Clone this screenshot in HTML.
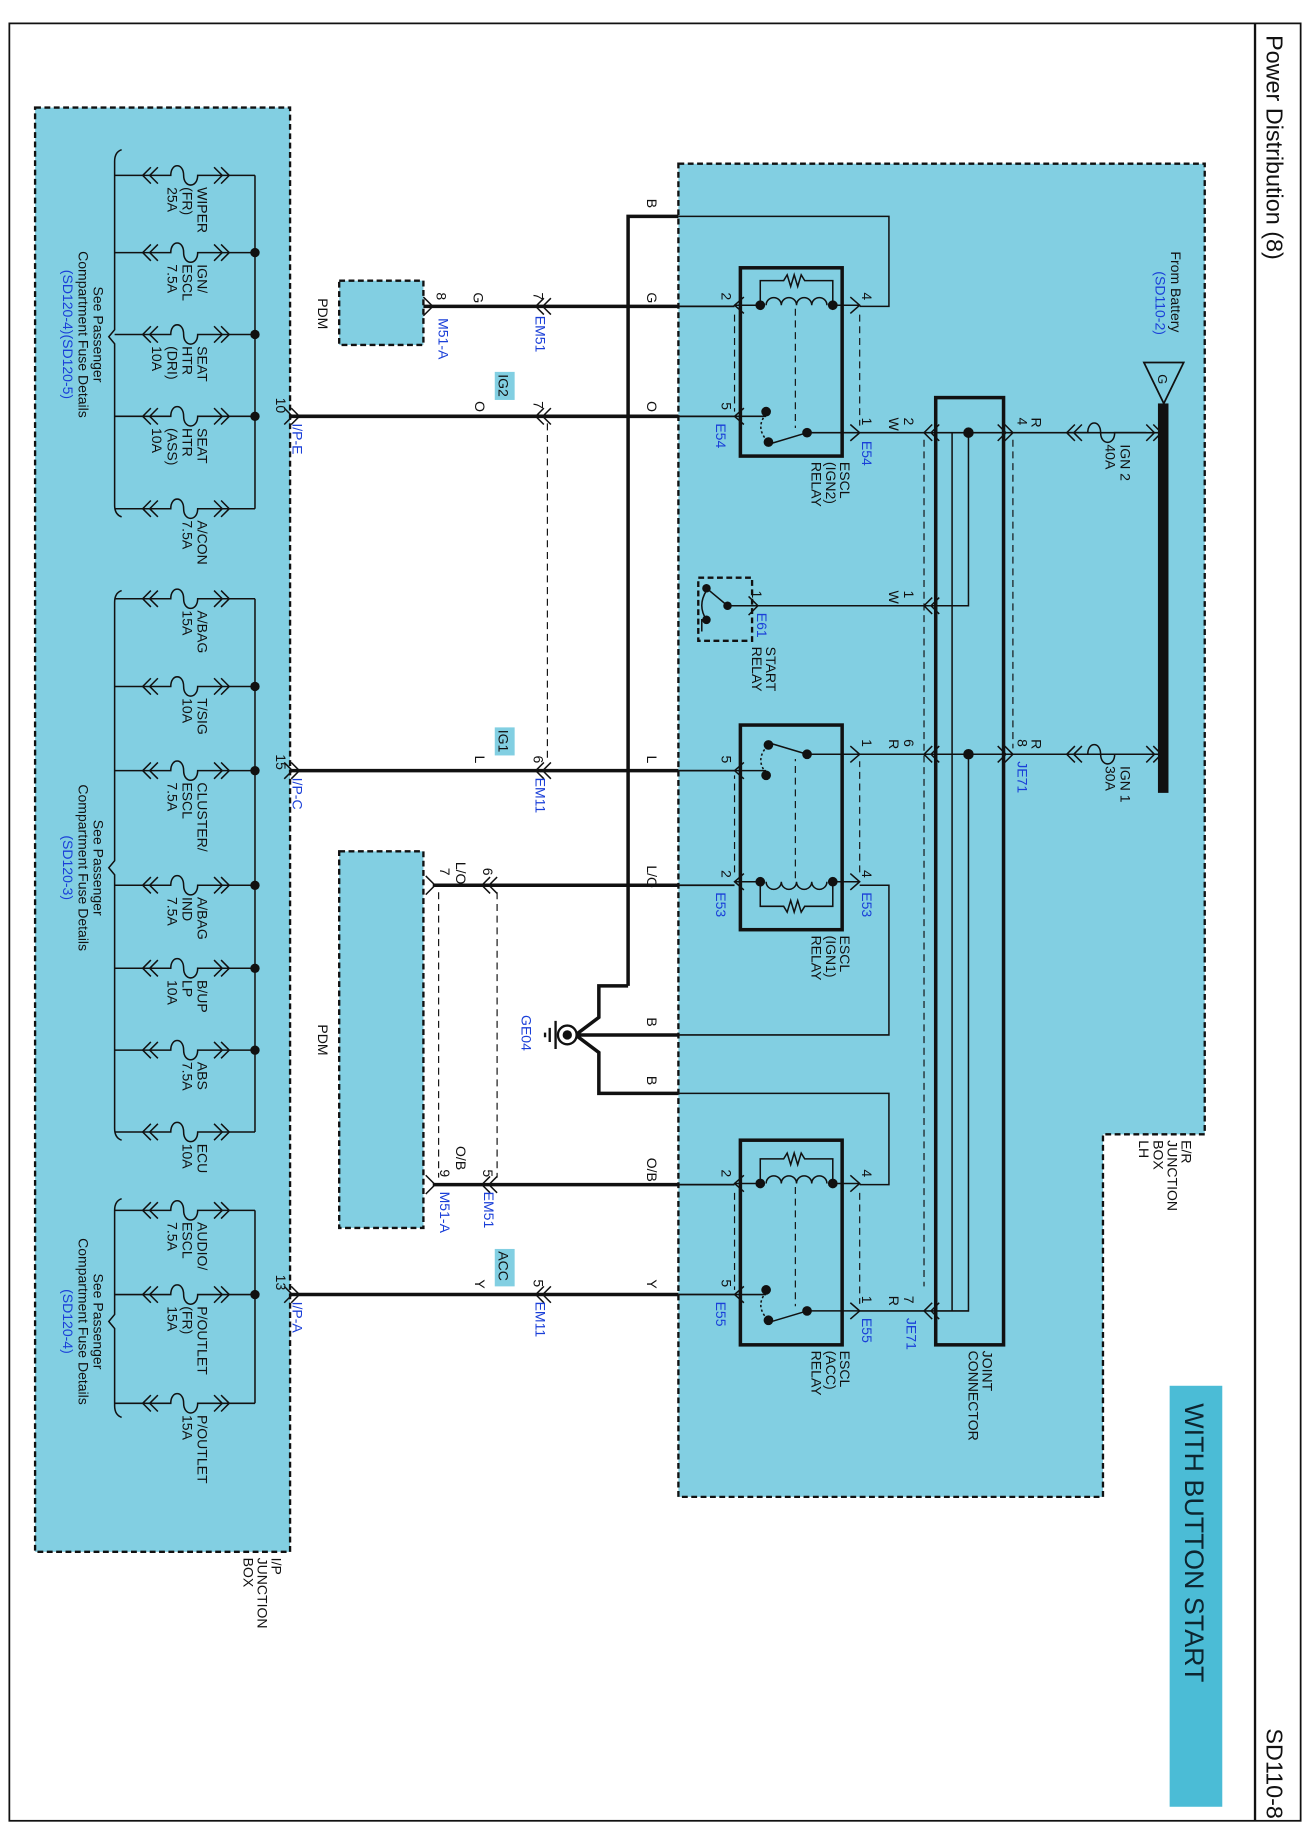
<!DOCTYPE html>
<html><head><meta charset="utf-8"><style>
html,body{margin:0;padding:0;background:#fff}
svg{display:block}
text{font-family:"Liberation Sans",sans-serif;font-size:12px;fill:#111}
.b{fill:#1a3fd8}
</style></head><body>
<svg width="1310" height="1836" viewBox="0 0 1120 1570" preserveAspectRatio="none" xmlns="http://www.w3.org/2000/svg">
<defs>
<path id="cl" d="M7,-7 L0,0 L7,7 M13,-7 L6,0 L13,7" fill="none" stroke="#111" stroke-width="1.3"/>
<path id="cr" d="M-7,-7 L0,0 L-7,7 M-13,-7 L-6,0 L-13,7" fill="none" stroke="#111" stroke-width="1.3"/>
<path id="sl" d="M8,-8 L0,0 L8,8" fill="none" stroke="#111" stroke-width="1.3"/>
<path id="sr" d="M-8,-8 L0,0 L-8,8" fill="none" stroke="#111" stroke-width="1.3"/>
<g id="fuse" fill="none" stroke="#111" stroke-width="1.3">
<path d="M98,0 H146 C146,-11 157,-11 157,0 S169,11 169,0 V0 H218"/>
<path d="M129,-7 L122,0 L129,7 M135,-7 L128,0 L135,7"/>
<path d="M183,-7 L190,0 L183,7 M189,-7 L196,0 L189,7"/>
</g>
<g id="rel" fill="none" stroke="#111" stroke-width="1.3">
<path d="M628,37 H650 M712,37 H735"/>
<path d="M655,37 a6.5,6.5 0 0 1 13,0 a6.5,6.5 0 0 1 13,0 a6.5,6.5 0 0 1 13,0 a6.5,6.5 0 0 1 13,0"/>
<path d="M650,37 V16 H670 l3,-5 l3,10 l3,-10 l3,10 l3,-10 l3,5 H712 V37"/>
<circle cx="650" cy="37" r="3.5" fill="#111"/><circle cx="712" cy="37" r="3.5" fill="#111"/>
<path d="M628,132 H655"/>
<circle cx="655" cy="128" r="3.5" fill="#111"/><circle cx="657" cy="154" r="3.5" fill="#111"/>
<path d="M655,130 Q645,142 657,154" stroke-dasharray="2,2"/>
<path d="M690,146 L660,155"/><circle cx="690" cy="146" r="3.5" fill="#111"/>
<path d="M690,146 H735"/>
<path d="M628,45 V128 M735,45 V140 M680,40 V142" stroke-dasharray="6,4" stroke-width="1"/>
<path d="M636,30 L628,37 L636,44 M636,125 L628,132 L636,139 M727,30 L735,37 L727,44 M727,139 L735,146 L727,153"/>
</g>
</defs>

<!-- frame -->
<rect x="8" y="20" width="1104" height="1537" fill="none" stroke="#111" stroke-width="1.5"/>
<line x1="1073" y1="20" x2="1073" y2="1557" stroke="#111" stroke-width="2"/>
<text x="1083" y="30" transform="rotate(90 1083 30)" style="font-size:20px">Power Distribution (8)</text>
<text x="1083" y="1478" transform="rotate(90 1083 1478)" style="font-size:20px">SD110-8</text>
<rect x="1000" y="1185" width="45" height="360" fill="#4bbcd6"/>
<text x="1013" y="1200" transform="rotate(90 1013 1200)" style="font-size:23px;fill:#0d2530">WITH BUTTON START</text>

<!-- boxes -->
<rect x="30" y="92" width="218" height="1235" fill="#82cfe2" stroke="#111" stroke-width="2" stroke-dasharray="5,3"/>
<path d="M580,140 H1030 V970 H943 V1280 H580 Z" fill="#82cfe2" stroke="#111" stroke-width="2" stroke-dasharray="5,3"/>
<rect x="290" y="240" width="72" height="55" fill="#82cfe2" stroke="#111" stroke-width="2" stroke-dasharray="5,3"/>
<rect x="290" y="728" width="72" height="322" fill="#82cfe2" stroke="#111" stroke-width="2" stroke-dasharray="5,3"/>
<rect x="597" y="494" width="46" height="54" fill="none" stroke="#111" stroke-width="2" stroke-dasharray="5,3"/>

<text x="232" y="1332" transform="rotate(90 232 1332)">I/P</text>
<text x="220" y="1332" transform="rotate(90 220 1332)">JUNCTION</text>
<text x="208" y="1332" transform="rotate(90 208 1332)">BOX</text>
<text x="1010" y="975" transform="rotate(90 1010 975)">E/R</text>
<text x="998" y="975" transform="rotate(90 998 975)">JUNCTION</text>
<text x="986" y="975" transform="rotate(90 986 975)">BOX</text>
<text x="974" y="975" transform="rotate(90 974 975)">LH</text>
<text x="272" y="255" transform="rotate(90 272 255)">PDM</text>
<text x="272" y="876" transform="rotate(90 272 876)">PDM</text>

<!-- fuse groups -->
<g fill="none" stroke="#111" stroke-width="1.3">
<path d="M104,128 Q98,130 98,138 V282 L93,288 L98,294 V432 Q98,440 104,442"/>
<path d="M218,150 V435"/>
<path d="M104,505 Q98,507 98,515 V736 L93,742 L98,748 V965 Q98,973 104,975"/>
<path d="M218,512 V968"/>
<path d="M104,1025 Q98,1027 98,1035 V1124 L93,1130 L98,1136 V1202 Q98,1210 104,1212"/>
<path d="M218,1035 V1200"/>
</g>
<use href="#fuse" transform="translate(0,150)"/><use href="#fuse" transform="translate(0,216)"/>
<use href="#fuse" transform="translate(0,286)"/><use href="#fuse" transform="translate(0,356)"/>
<use href="#fuse" transform="translate(0,435)"/>
<use href="#fuse" transform="translate(0,512)"/><use href="#fuse" transform="translate(0,587)"/>
<use href="#fuse" transform="translate(0,659)"/><use href="#fuse" transform="translate(0,757)"/>
<use href="#fuse" transform="translate(0,828)"/><use href="#fuse" transform="translate(0,898)"/>
<use href="#fuse" transform="translate(0,968)"/>
<use href="#fuse" transform="translate(0,1035)"/><use href="#fuse" transform="translate(0,1107)"/>
<use href="#fuse" transform="translate(0,1200)"/>
<g fill="#111">
<circle cx="218" cy="216" r="4"/><circle cx="218" cy="286" r="4"/><circle cx="218" cy="356" r="4"/>
<circle cx="218" cy="587" r="4"/><circle cx="218" cy="659" r="4"/><circle cx="218" cy="757" r="4"/>
<circle cx="218" cy="828" r="4"/><circle cx="218" cy="898" r="4"/><circle cx="218" cy="1107" r="4"/>
</g>
<!-- fuse labels -->
<g>
<text x="169" y="160" transform="rotate(90 169 160)">WIPER</text><text x="156" y="160" transform="rotate(90 156 160)">(FR)</text><text x="143" y="160" transform="rotate(90 143 160)">25A</text>
<text x="169" y="226" transform="rotate(90 169 226)">IGN/</text><text x="156" y="226" transform="rotate(90 156 226)">ESCL</text><text x="143" y="226" transform="rotate(90 143 226)">7.5A</text>
<text x="169" y="296" transform="rotate(90 169 296)">SEAT</text><text x="156" y="296" transform="rotate(90 156 296)">HTR</text><text x="143" y="296" transform="rotate(90 143 296)">(DRI)</text><text x="130" y="296" transform="rotate(90 130 296)">10A</text>
<text x="169" y="366" transform="rotate(90 169 366)">SEAT</text><text x="156" y="366" transform="rotate(90 156 366)">HTR</text><text x="143" y="366" transform="rotate(90 143 366)">(ASS)</text><text x="130" y="366" transform="rotate(90 130 366)">10A</text>
<text x="169" y="445" transform="rotate(90 169 445)">A/CON</text><text x="156" y="445" transform="rotate(90 156 445)">7.5A</text>
<text x="169" y="522" transform="rotate(90 169 522)">A/BAG</text><text x="156" y="522" transform="rotate(90 156 522)">15A</text>
<text x="169" y="597" transform="rotate(90 169 597)">T/SIG</text><text x="156" y="597" transform="rotate(90 156 597)">10A</text>
<text x="169" y="669" transform="rotate(90 169 669)">CLUSTER/</text><text x="156" y="669" transform="rotate(90 156 669)">ESCL</text><text x="143" y="669" transform="rotate(90 143 669)">7.5A</text>
<text x="169" y="767" transform="rotate(90 169 767)">A/BAG</text><text x="156" y="767" transform="rotate(90 156 767)">IND</text><text x="143" y="767" transform="rotate(90 143 767)">7.5A</text>
<text x="169" y="838" transform="rotate(90 169 838)">B/UP</text><text x="156" y="838" transform="rotate(90 156 838)">LP</text><text x="143" y="838" transform="rotate(90 143 838)">10A</text>
<text x="169" y="908" transform="rotate(90 169 908)">ABS</text><text x="156" y="908" transform="rotate(90 156 908)">7.5A</text>
<text x="169" y="978" transform="rotate(90 169 978)">ECU</text><text x="156" y="978" transform="rotate(90 156 978)">10A</text>
<text x="169" y="1045" transform="rotate(90 169 1045)">AUDIO/</text><text x="156" y="1045" transform="rotate(90 156 1045)">ESCL</text><text x="143" y="1045" transform="rotate(90 143 1045)">7.5A</text>
<text x="169" y="1117" transform="rotate(90 169 1117)">P/OUTLET</text><text x="156" y="1117" transform="rotate(90 156 1117)">(FR)</text><text x="143" y="1117" transform="rotate(90 143 1117)">15A</text>
<text x="169" y="1210" transform="rotate(90 169 1210)">P/OUTLET</text><text x="156" y="1210" transform="rotate(90 156 1210)">15A</text>
</g>
<g text-anchor="middle">
<text x="80" y="286" transform="rotate(90 80 286)">See Passenger</text>
<text x="67" y="286" transform="rotate(90 67 286)">Compartment Fuse Details</text>
<text x="54" y="286" transform="rotate(90 54 286)" class="b">(SD120-4)(SD120-5)</text>
<text x="80" y="742" transform="rotate(90 80 742)">See Passenger</text>
<text x="67" y="742" transform="rotate(90 67 742)">Compartment Fuse Details</text>
<text x="54" y="742" transform="rotate(90 54 742)" class="b">(SD120-3)</text>
<text x="80" y="1130" transform="rotate(90 80 1130)">See Passenger</text>
<text x="67" y="1130" transform="rotate(90 67 1130)">Compartment Fuse Details</text>
<text x="54" y="1130" transform="rotate(90 54 1130)" class="b">(SD120-4)</text>
</g>

<!-- wires -->
<g fill="none" stroke="#111">
<path d="M362,262 H580 M248,356 H580 M248,659 H580 M370,757 H580 M370,1013 H580 M248,1107 H580" stroke-width="3"/>
<path d="M580,262 H628 M580,356 H628 M580,659 H628 M580,757 H628 M580,1013 H628 M580,1107 H628" stroke-width="1.5"/>
<path d="M537,843 V185 H580" stroke-width="3"/>
<path d="M580,185 H760 V262 H735" stroke-width="1.3"/>
<path d="M537,843 H512 V870 L492,885 H580 M492,885 L512,900 V935 H580" stroke-width="3"/>
<path d="M580,885 H760 V757 H735 M580,935 H760 V1013 H735" stroke-width="1.3"/>
<path d="M735,370 H800 M735,645 H800 M648,518 H800 M735,1121 H800 M858,370 H995 M858,645 H995" stroke-width="1.3"/>
<path d="M468,362 V650 M375,763 V1007 M425,763 V1007 M790,376 V1100 M866,376 V640" stroke-width="1" stroke-dasharray="6,4"/>
</g>
<!-- connectors on wires -->
<use href="#cr" x="256" y="356"/><use href="#cr" x="256" y="659"/><use href="#cr" x="256" y="1107"/>
<use href="#cl" x="458" y="262"/><use href="#cl" x="458" y="356"/><use href="#cl" x="458" y="659"/><use href="#cl" x="458" y="1107"/>
<use href="#cl" x="412" y="757"/><use href="#cl" x="412" y="1013"/>
<use href="#sr" x="370" y="262"/><use href="#sr" x="372" y="757"/><use href="#sr" x="372" y="1013"/>
<use href="#cl" x="790" y="370"/><use href="#cl" x="790" y="518"/><use href="#cl" x="790" y="645"/><use href="#cl" x="790" y="1121"/>
<use href="#cr" x="866" y="370"/><use href="#cr" x="866" y="645"/>
<use href="#cl" x="912" y="370"/><use href="#cl" x="912" y="645"/>
<use href="#cr" x="993" y="370"/><use href="#cr" x="993" y="645"/>
<use href="#sr" x="648" y="518"/>
<path d="M912,370 H930 C930,359 941,359 941,370 S953,381 953,370 H980 M912,645 H930 C930,634 941,634 941,645 S953,656 953,645 H980" fill="none" stroke="#111" stroke-width="1.3"/>

<!-- battery bus -->
<path d="M978,310 H1012 L995,345 Z" fill="none" stroke="#111" stroke-width="1.5"/>
<text x="990" y="320" transform="rotate(90 990 320)" style="font-size:11px">G</text>
<rect x="990" y="345" width="9" height="333" fill="#111"/>
<text x="1001" y="215" transform="rotate(90 1001 215)">From Battery</text>
<text x="988" y="232" transform="rotate(90 988 232)" class="b">(SD110-2)</text>
<text x="958" y="380" transform="rotate(90 958 380)">IGN 2</text><text x="945" y="380" transform="rotate(90 945 380)">40A</text>
<text x="958" y="655" transform="rotate(90 958 655)">IGN 1</text><text x="945" y="655" transform="rotate(90 945 655)">30A</text>

<!-- joint connector -->
<rect x="800" y="340" width="58" height="810" fill="none" stroke="#111" stroke-width="3"/>
<path d="M800,370 H858 M800,645 H858 M828,370 V518 H800 M828,645 V1121 H800 M814,370 V1121" fill="none" stroke="#111" stroke-width="1.3"/>
<circle cx="828" cy="370" r="4.5" fill="#111"/><circle cx="828" cy="645" r="4.5" fill="#111"/>
<text x="840" y="1155" transform="rotate(90 840 1155)">JOINT</text>
<text x="828" y="1155" transform="rotate(90 828 1155)">CONNECTOR</text>

<!-- relays -->
<rect x="633" y="229" width="87" height="161" fill="none" stroke="#111" stroke-width="3"/>
<use href="#rel" transform="translate(0,224)"/>
<rect x="633" y="620" width="87" height="175" fill="none" stroke="#111" stroke-width="3"/>
<use href="#rel" transform="translate(0,791) scale(1,-1)"/>
<rect x="633" y="975" width="87" height="175" fill="none" stroke="#111" stroke-width="3"/>
<use href="#rel" transform="translate(0,975)"/>

<!-- start relay internals -->
<g fill="none" stroke="#111" stroke-width="1.3">
<circle cx="604" cy="503" r="3" fill="#111"/><circle cx="622" cy="518" r="3" fill="#111"/><circle cx="604" cy="530" r="3" fill="#111"/>
<path d="M604,503 L622,518 H648 M604,505 Q596,518 604,530" />
<path d="M604,530 H600 V540"/>
</g>
<text x="655" y="553" transform="rotate(90 655 553)">START</text><text x="643" y="553" transform="rotate(90 643 553)">RELAY</text>
<text x="643" y="505" transform="rotate(90 643 505)">1</text><text x="647" y="524" transform="rotate(90 647 524)" class="b">E61</text>
<text x="760" y="505" transform="rotate(90 760 505)">W</text><text x="773" y="505" transform="rotate(90 773 505)">1</text>

<!-- ground -->
<circle cx="485" cy="885" r="8" fill="#fff" stroke="#111" stroke-width="2"/>
<circle cx="485" cy="885" r="4" fill="#111"/>
<path d="M475,873 V897 M470,879 V891 M466,883 V887" stroke="#111" stroke-width="2"/>
<text x="446" y="868" transform="rotate(90 446 868)" class="b">GE04</text>

<!-- labels: relay names -->
<text x="718" y="395" transform="rotate(90 718 395)">ESCL</text><text x="706" y="395" transform="rotate(90 706 395)">(IGN2)</text><text x="694" y="395" transform="rotate(90 694 395)">RELAY</text>
<text x="718" y="800" transform="rotate(90 718 800)">ESCL</text><text x="706" y="800" transform="rotate(90 706 800)">(IGN1)</text><text x="694" y="800" transform="rotate(90 694 800)">RELAY</text>
<text x="718" y="1155" transform="rotate(90 718 1155)">ESCL</text><text x="706" y="1155" transform="rotate(90 706 1155)">(ACC)</text><text x="694" y="1155" transform="rotate(90 694 1155)">RELAY</text>

<!-- pin / wire labels -->
<g>
<text x="553" y="170" transform="rotate(90 553 170)">B</text>
<text x="373" y="250" transform="rotate(90 373 250)">8</text><text x="375" y="272" transform="rotate(90 375 272)" class="b">M51-A</text>
<text x="405" y="250" transform="rotate(90 405 250)">G</text><text x="456" y="250" transform="rotate(90 456 250)">7</text>
<text x="458" y="270" transform="rotate(90 458 270)" class="b">EM51</text><text x="553" y="250" transform="rotate(90 553 250)">G</text>
<text x="617" y="250" transform="rotate(90 617 250)">2</text><text x="737" y="250" transform="rotate(90 737 250)">4</text>

<text x="236" y="340" transform="rotate(90 236 340)">10</text><text x="250" y="362" transform="rotate(90 250 362)" class="b">I/P-E</text>
<rect x="423" y="318" width="17" height="24" fill="#82cfe2"/><text x="426" y="320" transform="rotate(90 426 320)">IG2</text>
<text x="406" y="343" transform="rotate(90 406 343)">O</text><text x="456" y="343" transform="rotate(90 456 343)">7</text>
<text x="553" y="343" transform="rotate(90 553 343)">O</text>
<text x="617" y="344" transform="rotate(90 617 344)">5</text><text x="612" y="362" transform="rotate(90 612 362)" class="b">E54</text>
<text x="737" y="357" transform="rotate(90 737 357)">1</text><text x="737" y="377" transform="rotate(90 737 377)" class="b">E54</text>
<text x="760" y="357" transform="rotate(90 760 357)">W</text><text x="773" y="357" transform="rotate(90 773 357)">2</text>
<text x="870" y="357" transform="rotate(90 870 357)">4</text><text x="882" y="357" transform="rotate(90 882 357)">R</text>

<text x="236" y="645" transform="rotate(90 236 645)">15</text><text x="250" y="665" transform="rotate(90 250 665)" class="b">I/P-C</text>
<rect x="423" y="622" width="17" height="24" fill="#82cfe2"/><text x="426" y="624" transform="rotate(90 426 624)">IG1</text>
<text x="406" y="646" transform="rotate(90 406 646)">L</text><text x="456" y="646" transform="rotate(90 456 646)">6</text>
<text x="458" y="665" transform="rotate(90 458 665)" class="b">EM11</text><text x="553" y="646" transform="rotate(90 553 646)">L</text>
<text x="617" y="646" transform="rotate(90 617 646)">5</text>
<text x="737" y="632" transform="rotate(90 737 632)">1</text>
<text x="760" y="632" transform="rotate(90 760 632)">R</text><text x="773" y="632" transform="rotate(90 773 632)">6</text>
<text x="870" y="632" transform="rotate(90 870 632)">8</text><text x="882" y="632" transform="rotate(90 882 632)">R</text>
<text x="870" y="651" transform="rotate(90 870 651)" class="b">JE71</text>

<text x="376" y="742" transform="rotate(90 376 742)">7</text><text x="390" y="737" transform="rotate(90 390 737)">L/O</text>
<text x="413" y="742" transform="rotate(90 413 742)">6</text><text x="553" y="740" transform="rotate(90 553 740)">L/O</text>
<text x="617" y="744" transform="rotate(90 617 744)">2</text><text x="612" y="763" transform="rotate(90 612 763)" class="b">E53</text>
<text x="737" y="744" transform="rotate(90 737 744)">4</text><text x="737" y="763" transform="rotate(90 737 763)" class="b">E53</text>

<text x="553" y="870" transform="rotate(90 553 870)">B</text><text x="553" y="920" transform="rotate(90 553 920)">B</text>

<text x="376" y="1000" transform="rotate(90 376 1000)">9</text><text x="376" y="1019" transform="rotate(90 376 1019)" class="b">M51-A</text>
<text x="390" y="980" transform="rotate(90 390 980)">O/B</text>
<text x="413" y="1000" transform="rotate(90 413 1000)">5</text><text x="414" y="1019" transform="rotate(90 414 1019)" class="b">EM51</text>
<text x="553" y="990" transform="rotate(90 553 990)">O/B</text>
<text x="617" y="1000" transform="rotate(90 617 1000)">2</text><text x="737" y="1000" transform="rotate(90 737 1000)">4</text>

<text x="236" y="1090" transform="rotate(90 236 1090)">13</text><text x="250" y="1113" transform="rotate(90 250 1113)" class="b">I/P-A</text>
<rect x="423" y="1068" width="17" height="32" fill="#82cfe2"/><text x="426" y="1070" transform="rotate(90 426 1070)">ACC</text>
<text x="406" y="1094" transform="rotate(90 406 1094)">Y</text><text x="456" y="1094" transform="rotate(90 456 1094)">5</text>
<text x="458" y="1113" transform="rotate(90 458 1113)" class="b">EM11</text><text x="553" y="1094" transform="rotate(90 553 1094)">Y</text>
<text x="617" y="1094" transform="rotate(90 617 1094)">5</text><text x="612" y="1113" transform="rotate(90 612 1113)" class="b">E55</text>
<text x="737" y="1108" transform="rotate(90 737 1108)">1</text><text x="737" y="1127" transform="rotate(90 737 1127)" class="b">E55</text>
<text x="760" y="1108" transform="rotate(90 760 1108)">R</text><text x="773" y="1108" transform="rotate(90 773 1108)">7</text>
<text x="775" y="1127" transform="rotate(90 775 1127)" class="b">JE71</text>
</g>
</svg>
</body></html>
